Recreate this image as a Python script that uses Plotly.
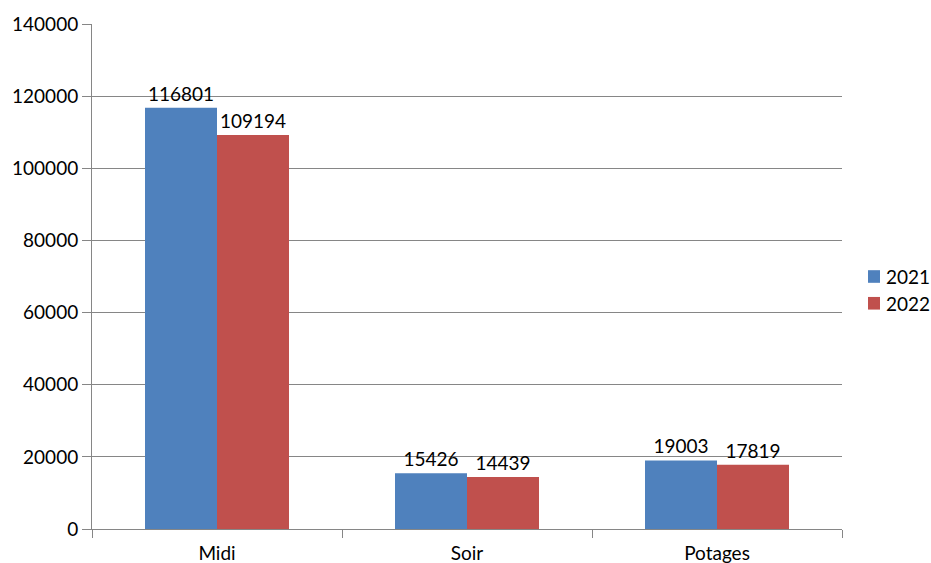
import plotly.graph_objects as go

categories = ["Midi", "Soir", "Potages"]
values_2021 = [116801, 15426, 19003]
values_2022 = [109194, 14439, 17819]
y_ticks = [0, 20000, 40000, 60000, 80000, 100000, 120000, 140000]

series_names = ["2021", "2022"]
series_colors = ["#4F81BD", "#C0504D"]

FONT = "Lato"
GRID = "#868686"
FS = 19

fig = go.Figure()
for name, vals, color in zip(series_names, [values_2021, values_2022], series_colors):
    fig.add_trace(go.Bar(
        name=name, x=categories, y=vals,
        marker=dict(color=color, line=dict(width=0)),
        text=[str(v) for v in vals], textposition="outside",
        textfont=dict(family=FONT, size=FS, color="#000000"),
        cliponaxis=False, showlegend=False,
    ))

# Legend on the right: colour squares with year labels
legend_y = [0.5, 0.447]
for name, color, ly in zip(series_names, series_colors, legend_y):
    fig.add_shape(
        type="rect", xref="paper", yref="paper",
        x0=1.0347, x1=1.0507, y0=ly - 0.0125, y1=ly + 0.0125,
        fillcolor=color, line=dict(width=0),
    )
    fig.add_annotation(
        xref="paper", yref="paper", x=1.056, y=ly,
        xanchor="left", yanchor="middle", showarrow=False,
        text=name, font=dict(family=FONT, size=FS, color="#000000"),
    )

fig.update_layout(
    width=931, height=563,
    margin=dict(l=92, r=89, t=24, b=34, autoexpand=False),
    paper_bgcolor="white", plot_bgcolor="white",
    barmode="group", bargap=0.424, bargroupgap=0,
    font=dict(family=FONT, size=FS, color="#000000"),
    showlegend=False,
)

fig.update_xaxes(
    type="category", tickson="boundaries",
    ticks="outside", ticklen=8, tickwidth=1, tickcolor=GRID,
    showline=True, linecolor=GRID, linewidth=1,
    showgrid=False, ticklabelstandoff=7, automargin=False,
    tickfont=dict(family=FONT, size=FS, color="#000000"),
)
fig.update_yaxes(
    range=[0, 140000], tickvals=y_ticks, ticktext=[str(v) for v in y_ticks],
    ticks="outside", ticklen=9, tickwidth=1, tickcolor=GRID,
    showline=True, linecolor=GRID, linewidth=1,
    showgrid=True, gridcolor=GRID, gridwidth=1,
    zeroline=False, automargin=False,
    tickfont=dict(family=FONT, size=FS, color="#000000"),
)

fig.write_html("out.html")
